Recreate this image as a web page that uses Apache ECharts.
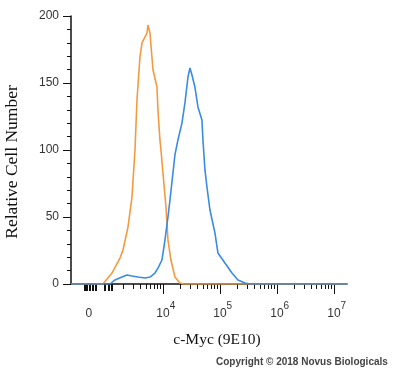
<!DOCTYPE html>
<html>
<head>
<meta charset="utf-8">
<script src="https://cdn.jsdelivr.net/npm/echarts@6/dist/echarts.min.js"></script>
<style>html,body{margin:0;padding:0;background:#fff;}#chart{width:400px;height:378px;}</style>
</head>
<body>
<div id="chart"></div>
<script>
// x values are display units: log10(intensity) in the log region (biexponential axis)
const isotypeX = [2.386, 2.947, 3.105, 3.246, 3.298, 3.386, 3.456, 3.509, 3.544, 3.596, 3.632, 3.667, 3.719, 3.737, 3.772, 3.825, 3.895, 3.912, 3.947, 3.965, 4.0, 4.053, 4.088, 4.14, 4.21, 4.298, 4.368, 7.23];
const isotypeY = [0, 0, 8.2, 19.4, 25.4, 42.5, 64.9, 100, 137.3, 169.4, 179.9, 180.6, 187.3, 193.3, 187.3, 159.7, 147, 129.9, 107.5, 100, 82.8, 57.5, 32.8, 17.9, 5.2, 0.7, 0, 0];
const cmycX = [2.386, 3.07, 3.158, 3.281, 3.368, 3.456, 3.561, 3.684, 3.772, 3.86, 3.912, 3.982, 4.035, 4.088, 4.123, 4.175, 4.21, 4.263, 4.333, 4.386, 4.439, 4.474, 4.509, 4.561, 4.614, 4.684, 4.702, 4.737, 4.772, 4.825, 4.912, 4.965, 5.088, 5.211, 5.316, 5.439, 5.53, 7.23];
const cmycY = [0, 0, 3, 5.2, 6.7, 6, 5.2, 4.5, 5.2, 8.2, 11.9, 17.9, 32.8, 50, 62.7, 82.8, 96.3, 107.5, 120.1, 135.1, 154.5, 161.2, 156, 147, 132.1, 122.4, 107.5, 85.1, 72.4, 55.2, 38.1, 23.1, 15.7, 8.2, 3, 0.7, 0, 0];

const xMin = 2.386, xMax = 7.23;
const xLabelPos = [2.70, 4, 5, 6, 7];
const xLabelText = ['0', '10^4', '10^5', '10^6', '10^7'];
const xMajorTicks = [4, 5, 6, 7];
const xLinearTicks = [2.632, 2.667, 2.719, 2.772, 2.825, 2.982, 3.053, 3.105];
const decades = [3, 4, 5, 6];
const mult = [2, 3, 4, 5, 6, 7, 8, 9];
const xMinorTicks = [];
decades.forEach(d => mult.forEach(k => xMinorTicks.push(d + Math.log10(k))));

const chart = echarts.init(document.getElementById('chart'));
const grid = {left: 71, right: 53, top: 16, bottom: 94, containLabel: false, outerBoundsMode: 'none'};
function xLab(v) {
  const i = xLabelPos.findIndex(p => Math.abs(p - v) < 1e-6);
  if (i < 0) return '';
  const t = xLabelText[i];
  if (t.indexOf('^') < 0) return '{b|' + t + '}';
  const e = t.split('^')[1];
  return '{h|' + e + '}{b|10}{s|' + e + '}';
}
const baseAxis = {type: 'value', min: xMin, max: xMax, gridIndex: 0, position: 'bottom', splitLine: {show: false}};
function tickAxis(vals, len, w) {
  return Object.assign({}, baseAxis, {
    axisLine: {show: false, onZero: false},
    axisTick: {show: true, inside: false, customValues: vals, length: len, lineStyle: {color: '#111', width: w}},
    axisLabel: {show: false}
  });
}
chart.setOption({
  animation: false,
  grid: grid,
  xAxis: [
    Object.assign({}, baseAxis, {
      name: 'c-Myc (9E10)', nameLocation: 'middle', nameGap: 48,
      nameTextStyle: {fontFamily: 'Liberation Serif', fontSize: 15.5, color: '#111', padding: [0, 0, 0, 16]},
      axisLine: {show: true, onZero: false, lineStyle: {color: '#111', width: 1.5}},
      axisTick: {show: false},
      axisLabel: {show: true, customValues: xLabelPos, margin: 17, formatter: xLab,
        rich: {
          b: {fontFamily: 'Liberation Sans', fontSize: 12, color: '#333', padding: [7, 0, 0, 0]},
          s: {fontFamily: 'Liberation Sans', fontSize: 10, color: '#333', padding: [0, 0, 9, 0]},
          h: {fontFamily: 'Liberation Sans', fontSize: 10, color: 'rgba(0,0,0,0)', padding: [0, 0, 9, 0]}
        }}
    }),
    tickAxis(xMajorTicks, 10, 1),
    tickAxis(xMinorTicks, 5, 1),
    tickAxis(xLinearTicks, 7, 2)
  ],
  yAxis: {
    type: 'value', min: 0, max: 200, interval: 50,
    name: 'Relative Cell Number', nameLocation: 'middle', nameGap: 50,
    nameTextStyle: {fontFamily: 'Liberation Serif', fontSize: 17.5, color: '#111', padding: [0, 24, 0, 0]},
    axisLine: {show: true, lineStyle: {color: '#111', width: 1.5}},
    axisTick: {show: true, length: 8, lineStyle: {color: '#111'}},
    minorTick: {show: true, splitNumber: 5, length: 4, lineStyle: {color: '#111'}},
    splitLine: {show: false},
    axisLabel: {fontFamily: 'Liberation Sans', fontSize: 12, color: '#333', margin: 12}
  },
  series: [
    {type: 'line', name: 'Isotype', data: isotypeX.map((x, i) => [x, isotypeY[i]]), showSymbol: false,
     lineStyle: {color: '#F49A3E', width: 1.6}, z: 2},
    {type: 'line', name: 'c-Myc', data: cmycX.map((x, i) => [x, cmycY[i]]), showSymbol: false,
     lineStyle: {color: '#3A8BE3', width: 1.6}, z: 3}
  ],
  graphic: [{type: 'text', left: 216, top: 357,
    style: {text: 'Copyright © 2018 Novus Biologicals', font: 'bold 10px "Liberation Sans"', fill: '#444'}}]
});
</script>
</body>
</html>
